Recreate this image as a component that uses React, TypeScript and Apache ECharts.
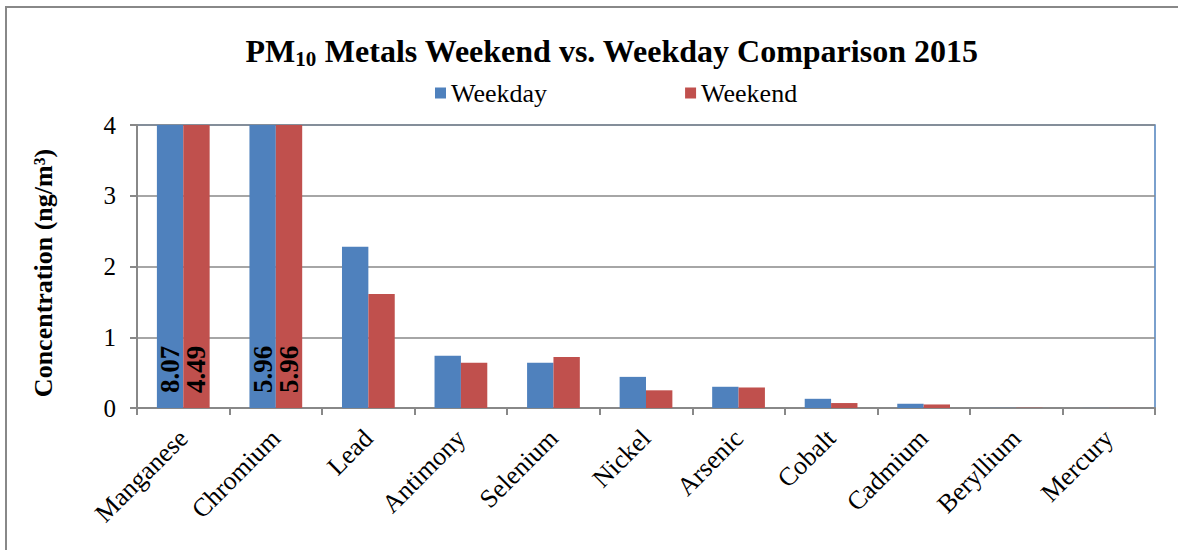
import React, { useEffect, useRef } from "react";
import * as echarts from "echarts";

const categories = ["Manganese", "Chromium", "Lead", "Antimony", "Selenium", "Nickel", "Arsenic", "Cobalt", "Cadmium", "Beryllium", "Mercury"];
const weekday = [8.07, 5.96, 2.28, 0.74, 0.64, 0.44, 0.30, 0.13, 0.06, 0.002, 0.001];
const weekend = [4.49, 5.96, 1.61, 0.64, 0.72, 0.25, 0.29, 0.07, 0.05, 0.002, 0.001];
const yTicks = [0, 1, 2, 3, 4];

const FONT = "Liberation Serif";

export default function App() {
  const ref = useRef<HTMLDivElement>(null);
  useEffect(() => {
    if (!ref.current) return;
    const chart = echarts.init(ref.current, null, { renderer: "svg" });
    const bigLabel = {
      show: true,
      position: "insideBottom",
      rotate: 90,
      align: "left",
      verticalAlign: "middle",
      distance: 15,
      fontFamily: FONT,
      fontWeight: "bold",
      fontSize: 27,
      color: "#000",
      formatter: (p: any) => (p.value > yTicks[yTicks.length - 1] ? p.value.toFixed(2) : ""),
    };
    chart.setOption({
      animation: false,
      backgroundColor: "#fff",
      textStyle: { fontFamily: FONT },
      graphic: [
        {
          type: "polyline",
          shape: { points: [[6, 550], [6, 7], [1178, 7]] },
          style: { stroke: "#888", lineWidth: 2, fill: "none" },
        },
        {
          type: "text",
          x: 612,
          y: 51,
          style: {
            text: "{a|PM}{s|10}{a| Metals Weekend vs. Weekday Comparison 2015}",
            align: "center",
            verticalAlign: "middle",
            rich: {
              a: { fontFamily: FONT, fontWeight: "bold", fontSize: 32, lineHeight: 36, fill: "#000", verticalAlign: "middle" },
              s: { fontFamily: FONT, fontWeight: "bold", fontSize: 21, lineHeight: 36, fill: "#000", verticalAlign: "bottom", padding: [14, 0, 0, 0] },
            },
          },
        },
        {
          type: "text",
          x: 43,
          y: 273,
          rotation: Math.PI / 2,
          style: {
            text: "Concentration (ng/m\u00B3)",
            align: "center",
            verticalAlign: "middle",
            fontFamily: FONT,
            fontWeight: "bold",
            fontSize: 26,
            fill: "#000",
          },
        },
      ],
      legend: {
        left: 430,
        top: 75,
        itemWidth: 11,
        itemHeight: 11,
        itemGap: 138,
        icon: "rect",
        textStyle: { fontFamily: FONT, fontSize: 26, color: "#000" },
        data: ["Weekday", "Weekend"],
      },
      grid: {
        left: 137,
        right: 23,
        top: 125,
        bottom: 142,
        show: true,
        borderColor: "#4F81BD",
        borderWidth: 1.5,
        backgroundColor: "transparent",
      },
      xAxis: {
        type: "category",
        data: categories,
        axisLine: { show: true, lineStyle: { color: "#888", width: 2 } },
        axisTick: { show: true, alignWithLabel: false, length: 7, lineStyle: { color: "#888", width: 2 } },
        axisLabel: { rotate: 45, margin: 26, fontFamily: FONT, fontSize: 26, color: "#000", interval: 0 },
      },
      yAxis: {
        type: "value",
        min: yTicks[0],
        max: yTicks[yTicks.length - 1],
        interval: 1,
        axisLine: { show: true, lineStyle: { color: "#888", width: 2 } },
        axisTick: { show: true, inside: false, length: 7, lineStyle: { color: "#888", width: 2 } },
        axisLabel: { margin: 21, fontFamily: FONT, fontSize: 25, color: "#000" },
        splitLine: { show: true, lineStyle: { color: "#888", width: 1.5 } },
      },
      series: [
        {
          name: "Weekday",
          type: "bar",
          data: weekday,
          itemStyle: { color: "#4F81BD" },
          barGap: "0%",
          barCategoryGap: "43%",
          clip: true,
          label: bigLabel,
        },
        {
          name: "Weekend",
          type: "bar",
          data: weekend,
          itemStyle: { color: "#C0504D" },
          barGap: "0%",
          barCategoryGap: "43%",
          clip: true,
          label: bigLabel,
        },
      ],
    });
    return () => chart.dispose();
  }, []);
  return <div ref={ref} style={{ position: "fixed", left: 0, top: 0, width: 1178, height: 550 }} />;
}
